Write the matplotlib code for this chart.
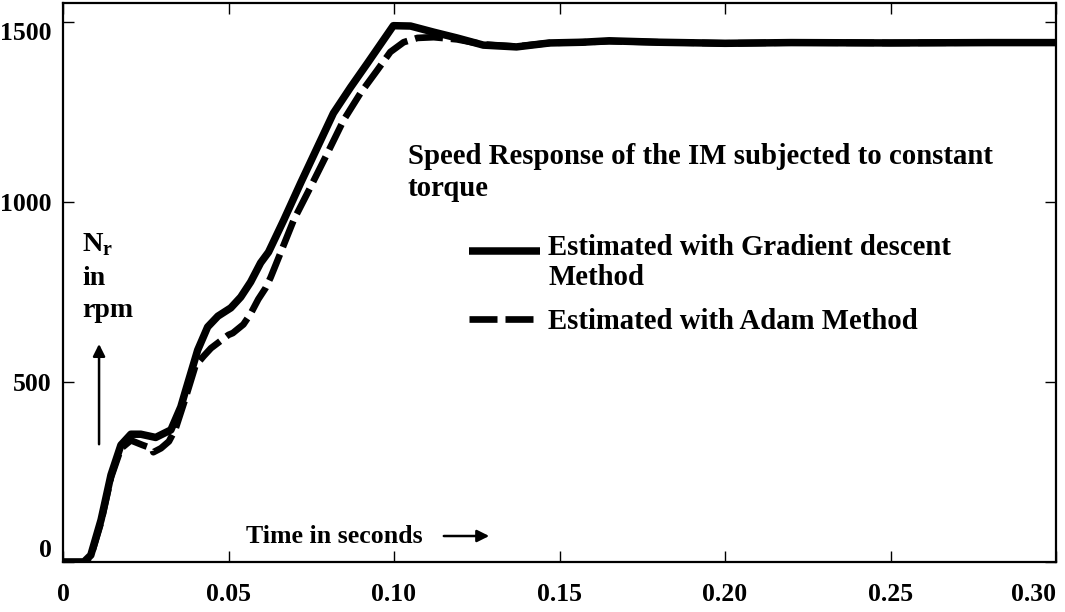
import numpy as np
import matplotlib
matplotlib.use('Agg')
import matplotlib.pyplot as plt
from matplotlib.legend_handler import HandlerLine2D

# 速度响应数据
t_gd = [0, 0.0063, 0.0084, 0.0115, 0.0145, 0.0175, 0.0205, 0.0235, 0.028, 0.0326,
        0.0356, 0.037, 0.0407, 0.0437, 0.0468, 0.0507, 0.0537, 0.0567, 0.0597, 0.0621,
        0.0667, 0.0718, 0.0769, 0.0817, 0.0869, 0.092, 0.0968, 0.0998, 0.105, 0.112,
        0.119, 0.127, 0.137, 0.147, 0.157, 0.165, 0.18, 0.20, 0.22, 0.25, 0.28, 0.30]
n_gd = [0, 0, 19, 117, 242, 325, 355, 355, 346, 367,
        431, 475, 589, 653, 683, 706, 736, 778, 831, 861,
        950, 1053, 1153, 1247, 1319, 1386, 1450, 1490, 1489, 1472,
        1456, 1436, 1431, 1442, 1444, 1448, 1444, 1441, 1443, 1442, 1443, 1443]

t_ad = [0, 0.0063, 0.0084, 0.0115, 0.0145, 0.0175, 0.0205, 0.024, 0.027, 0.0273,
        0.0296, 0.032, 0.034, 0.037, 0.040, 0.0425, 0.0447, 0.050, 0.0513, 0.0545,
        0.0567, 0.059, 0.0612, 0.0627, 0.0649, 0.0697, 0.0748, 0.0799, 0.0848, 0.0899,
        0.095, 0.0989, 0.1029, 0.1071, 0.112, 0.119, 0.127, 0.137, 0.147, 0.157,
        0.165, 0.18, 0.20, 0.22, 0.25, 0.28, 0.30]
n_ad = [0, 0, 15, 110, 235, 315, 338, 325, 315, 305,
        316, 335, 370, 455, 545, 572, 594, 631, 636, 660,
        690, 730, 761, 790, 840, 950, 1042, 1136, 1228, 1303,
        1367, 1417, 1444, 1456, 1458, 1452, 1438, 1432, 1442, 1444,
        1447, 1444, 1441, 1443, 1442, 1443, 1443]

x_ticks = [0, 0.05, 0.10, 0.15, 0.20, 0.25, 0.30]
x_labels = ['0', '0.05', '0.10', '0.15', '0.20', '0.25', '0.30']
y_ticks = [0, 500, 1000, 1500]
y_labels = ['0', '500', '1000', '1500']

plt.rcParams['font.family'] = ['Liberation Serif', 'DejaVu Serif']
plt.rcParams['font.weight'] = 'bold'
plt.rcParams['mathtext.fontset'] = 'custom'
plt.rcParams['mathtext.rm'] = 'Liberation Serif:bold'
plt.rcParams['mathtext.bf'] = 'Liberation Serif:bold'


class TopLine(HandlerLine2D):
    # 图例线对齐到第一行文字
    def __init__(self, dy=0, **kw):
        super().__init__(**kw)
        self.dy = dy

    def create_artists(self, legend, orig_handle, xdescent, ydescent, width, height, fontsize, trans):
        arts = super().create_artists(legend, orig_handle, xdescent, ydescent, width, height, fontsize, trans)
        for a in arts:
            a.set_ydata(np.asarray(a.get_ydata(), dtype=float) + self.dy)
        return arts


fig = plt.figure(figsize=(10.65, 6.12), dpi=100)
ax = fig.add_axes([63 / 1065, 50 / 612, 993 / 1065, 559 / 612])

l1, = ax.plot(t_gd, n_gd, color='black', lw=5.4, solid_capstyle='butt')
l2, = ax.plot(t_ad, n_ad, color='black', lw=4.8, dashes=(4.2, 1.2))

ax.set_xlim(0, 0.2998)
ax.set_ylim(0, 1553)
ax.set_xticks(x_ticks)
ax.set_xticklabels(x_labels)
ax.set_yticks(y_ticks)
ax.set_yticklabels(y_labels)
ax.tick_params(direction='in', length=8, width=1, top=True, right=True,
               labelsize=18.5, color='black')
ax.tick_params(axis='x', pad=15)
ax.tick_params(axis='y', pad=8)
for s in ax.spines.values():
    s.set_linewidth(1.6)

ax.get_yticklabels()[0].set_va('bottom')
ax.get_yticklabels()[-1].set_va('top')
ax.get_xticklabels()[-1].set_ha('right')

ax.text(0.347, 0.6966, 'Speed Response of the IM subjected to constant\ntorque',
        transform=ax.transAxes, fontsize=20.7, fontweight='bold', ha='left', va='center',
        linespacing=1.21)

ax.text(0.0191, 0.5674, r'$\mathbf{N}_\mathbf{r}$', transform=ax.transAxes,
        fontsize=20.5, ha='left', va='center')
ax.text(0.0191, 0.5075, 'in', transform=ax.transAxes, fontsize=20, ha='left', va='center')
ax.text(0.0191, 0.4493, 'rpm', transform=ax.transAxes, fontsize=20, ha='left', va='center')
ax.annotate('', xy=(0.0363, 0.395), xytext=(0.0363, 0.2057), xycoords='axes fraction',
            arrowprops=dict(arrowstyle='-|>', lw=1.8, color='black', mutation_scale=18))

ax.text(0.184, 0.0465, 'Time in seconds', transform=ax.transAxes, fontsize=18.6,
        ha='left', va='center')
ax.annotate('', xy=(0.432, 0.0465), xytext=(0.3807, 0.0465), xycoords='axes fraction',
            arrowprops=dict(arrowstyle='-|>', lw=1.8, color='black', mutation_scale=18))

leg = ax.legend([l1, l2], ['Estimated with Gradient descent\nMethod', 'Estimated with Adam Method'],
                loc='upper left', bbox_to_anchor=(0.409, 0.587), frameon=False,
                fontsize=20.7, borderpad=0, borderaxespad=0, handlelength=2.45,
                handletextpad=0.3, labelspacing=0.62,
                handler_map={l1: TopLine(dy=8.5)})
leg.get_texts()[0].set_linespacing(1.13)

plt.savefig('out.png', dpi=100)
